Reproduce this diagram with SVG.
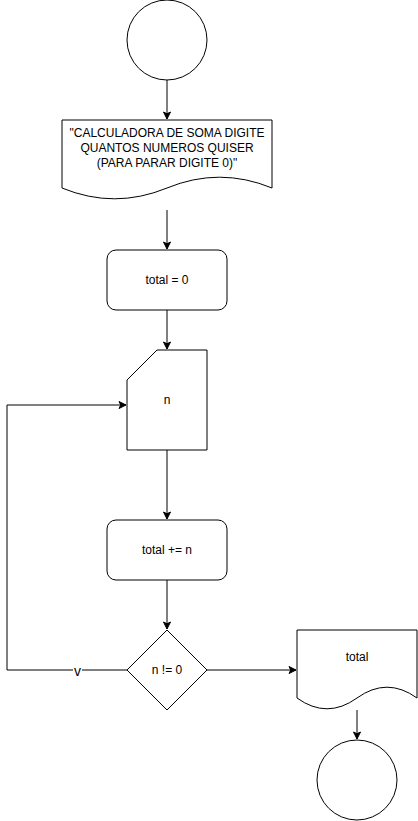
<svg xmlns="http://www.w3.org/2000/svg" width="418" height="821" viewBox="0 0 418 821">
<style>
.shape{fill:#fff;stroke:#000;stroke-width:1}
.edge{fill:none;stroke:#000;stroke-width:1}
text{font-family:"Liberation Sans",Arial,sans-serif;font-size:12px;fill:#000;text-anchor:middle}
</style>
<defs>
<marker id="arr" markerUnits="userSpaceOnUse" markerWidth="10" markerHeight="10" viewBox="-8 -5 10 10" refX="0" refY="0" orient="auto">
<path d="M-7,-3.5 L0,0 L-7,3.5 L-5.25,0 Z" fill="#000" stroke="#000" stroke-width="1"/>
</marker>
</defs>
<rect width="418" height="821" fill="#fff"/>
<g id="connectors">
<path class="edge" d="M167,80 L167,119" marker-end="url(#arr)"/>
<path class="edge" d="M167,210 L167,249" marker-end="url(#arr)"/>
<path class="edge" d="M167,310 L167,349" marker-end="url(#arr)"/>
<path class="edge" d="M167,450 L167,519" marker-end="url(#arr)"/>
<path class="edge" d="M167,580 L167,629" marker-end="url(#arr)"/>
<path class="edge" d="M127,670 L7,670 L7,405 L126,405" marker-end="url(#arr)"/>
<path class="edge" d="M207,670 L296,670" marker-end="url(#arr)"/>
<path class="edge" d="M357,710 L357,739" marker-end="url(#arr)"/>
<rect x="73" y="667" width="9" height="10" fill="#fff"/>
<text x="77.5" y="676" style="font-size:14px">v</text>
</g>
<g id="start">
<circle class="shape" cx="167" cy="40" r="40"/>
</g>
<g id="doc1">
<path class="shape" d="M62,120 L272,120 L272,188 Q219.5,166.4 167,188 Q114.5,209.6 62,188 Z"/>
<text x="167" y="137">"CALCULADORA DE SOMA DIGITE</text>
<text x="167" y="152">QUANTOS NUMEROS QUISER</text>
<text x="167" y="167">(PARA PARAR DIGITE 0)"</text>
</g>
<g id="init">
<rect class="shape" x="107" y="250" width="120" height="60" rx="9" ry="9"/>
<text x="167" y="284">total = 0</text>
</g>
<g id="input">
<path class="shape" d="M157,350 L207,350 L207,450 L127,450 L127,380 Z"/>
<text x="167" y="404">n</text>
</g>
<g id="accum">
<rect class="shape" x="107" y="520" width="120" height="60" rx="9" ry="9"/>
<text x="167" y="554">total += n</text>
</g>
<g id="decision">
<path class="shape" d="M167,630 L207,670 L167,710 L127,670 Z"/>
<text x="167" y="674">n != 0</text>
</g>
<g id="doc2">
<path class="shape" d="M297,630 L417,630 L417,698 Q387,676.4 357,698 Q327,719.6 297,698 Z"/>
<text x="357" y="661">total</text>
</g>
<g id="end">
<circle class="shape" cx="357" cy="780" r="40"/>
</g>
</svg>
